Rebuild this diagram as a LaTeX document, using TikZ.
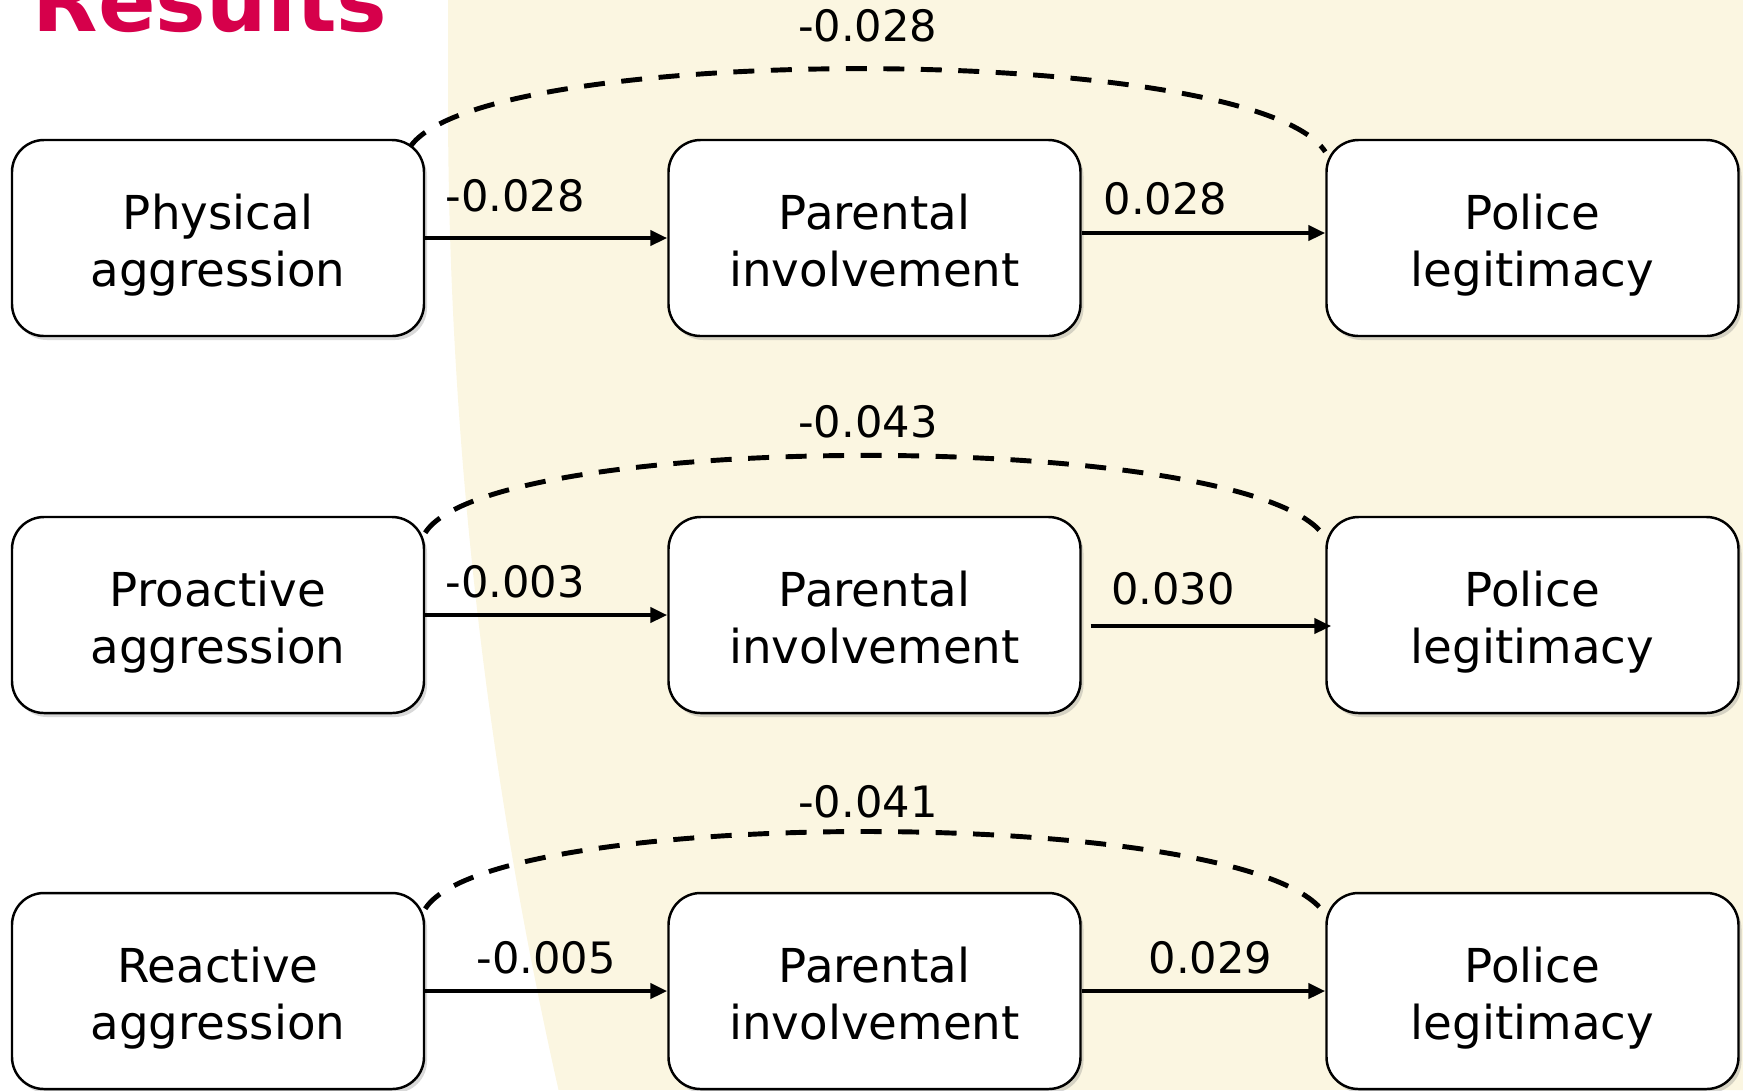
\documentclass[tikz,border=0pt]{standalone}
\usepackage{fontspec}
\setmainfont{DejaVu Sans}
\usetikzlibrary{arrows.meta}
\usetikzlibrary{shadows}
\definecolor{beige}{HTML}{FBF6E1}
\definecolor{crimson}{HTML}{D6004B}
\tikzset{
	box/.style={rectangle,rounded corners=0.32cm,draw,fill=white,line width=0.7pt,
		minimum width=4.12cm,minimum height=1.96cm,align=center,
		text height=27.8pt,text depth=0pt,
		font=\fontsize{13.3}{16.2}\selectfont,
		drop shadow={shadow xshift=0.03cm,shadow yshift=-0.04cm,opacity=0.3}},
	lbl/.style={font=\fontsize{12.3}{14}\selectfont,anchor=base,inner sep=0pt},
	arr/.style={-{Triangle[length=0.17cm,width=0.15cm]},line width=1.2pt},
	cov/.style={line width=1.4pt,dash pattern=on 0.21cm off 0.165cm}
}

\begin{document}
\begin{tikzpicture}
	\useasboundingbox (0,0) rectangle (17.43,-10.90);
	% background
	\fill[beige] (4.48,0) -- (4.48,-1.0) arc[start angle=180,end angle=192.72,radius=44.96]
		-- (17.43,-10.90) -- (17.43,0) -- cycle;
	\node[font=\fontsize{24.2}{29}\selectfont\bfseries,text=crimson,anchor=base west,inner sep=0pt] (title) at (0.32,-0.31) {Results};

	% physical aggression
	\node[box] (phys) at (2.18,-2.38) {Physical\\aggression};
	\node[box] (par1) at (8.745,-2.38) {Parental\\involvement};
	\node[box] (pol1) at (15.325,-2.38) {Police\\legitimacy};
	\draw[arr] (phys) -- (par1) node[lbl,midway,xshift=-0.31cm,yshift=0.27cm] {-0.028};
	\draw[arr] ([yshift=0.05cm]par1.east) -- ([yshift=0.05cm]pol1.west) node[lbl,midway,xshift=-0.38cm,yshift=0.19cm] {0.028};
	\draw[cov] ([xshift=-0.15cm,yshift=-0.08cm]phys.north east) .. controls +(0.71,1.05) and +(-0.71,1.10) .. ([yshift=-0.13cm]pol1.north west)
		node[lbl,midway,yshift=0.27cm] {-0.028};

	% proactive aggression
	\node[box] (proa) at (2.18,-6.15) {Proactive\\aggression};
	\node[box] (par2) at (8.745,-6.15) {Parental\\involvement};
	\node[box] (pol2) at (15.325,-6.15) {Police\\legitimacy};
	\draw[arr] (proa) -- (par2) node[lbl,midway,xshift=-0.31cm,yshift=0.18cm] {-0.003};
	\draw[arr] ([xshift=0.09cm,yshift=-0.11cm]par2.east) -- ([xshift=0.06cm,yshift=-0.11cm]pol2.west) node[lbl,midway,xshift=-0.38cm,yshift=0.22cm] {0.030};
	\draw[cov] ([yshift=-0.17cm]proa.north east) .. controls +(0.65,1.04) and +(-0.66,1.09) .. ([yshift=-0.22cm]pol2.north west)
		node[lbl,midway,xshift=-0.07cm,yshift=0.18cm] {-0.043};

	% reactive aggression
	\node[box] (reac) at (2.18,-9.91) {Reactive\\aggression};
	\node[box] (par3) at (8.745,-9.91) {Parental\\involvement};
	\node[box] (pol3) at (15.325,-9.91) {Police\\legitimacy};
	\draw[arr] (reac) -- (par3) node[lbl,midway,yshift=0.18cm] {-0.005};
	\draw[arr] (par3) -- (pol3) node[lbl,midway,xshift=0.07cm,yshift=0.18cm] {0.029};
	\draw[cov] ([yshift=-0.17cm]reac.north east) .. controls +(0.65,1.04) and +(-0.66,1.10) .. ([yshift=-0.23cm]pol3.north west)
		node[lbl,midway,xshift=-0.07cm,yshift=0.14cm] {-0.041};
\end{tikzpicture}
\end{document}
